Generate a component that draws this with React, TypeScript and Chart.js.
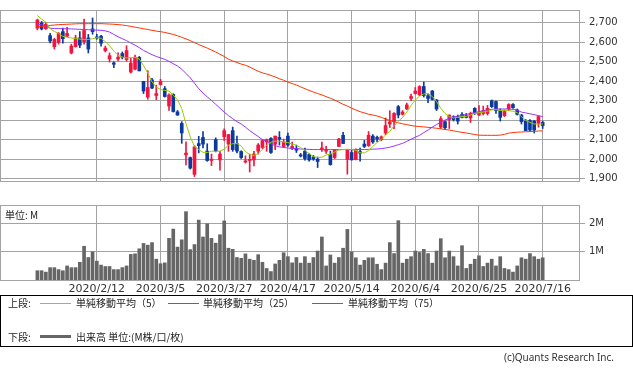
import React, { useEffect, useRef } from 'react';
import { Chart, registerables } from 'chart.js';

Chart.register(...registerables);

// ---------- data ----------
const tickIndex = [14, 29, 44, 59, 74, 89, 104, 119];
const tickLabels = ['2020/2/12', '2020/3/5', '2020/3/27', '2020/4/17', '2020/5/14', '2020/6/4', '2020/6/25', '2020/7/16'];
const priceTicks = [1900, 2000, 2100, 2200, 2300, 2400, 2500, 2600, 2700];
const volumeTicks = [1, 2];
const volumeUnitLabel = '単位: M';

const opens = [
  2672, 2699, 2669, 2634, 2577, 2599, 2654, 2631, 2545, 2577,
  2622, 2603, 2622, 2668, 2626, 2631, 2557, 2514, 2494, 2514,
  2542, 2511, 2447, 2462, 2522, 2399, 2319, 2407, 2327, 2383,
  2362, 2273, 2332, 2243, 2184, 2023, 2009, 1923, 2081, 2112,
  2042, 1994, 2101, 1997, 2116, 2078, 2147, 2081, 2040, 1986,
  1994, 1997, 2042, 2061, 2089, 2107, 2078, 2112, 2066, 2119,
  2055, 2054, 2023, 2042, 2024, 2012, 2001, 2050, 2042, 2024,
  2009, 2066, 2123, 1999, 2035, 1999, 2040, 2078, 2070, 2119,
  2112, 2101, 2135, 2181, 2193, 2270, 2231, 2258, 2312, 2337,
  2330, 2373, 2326, 2350, 2304, 2165, 2193, 2204, 2219, 2219,
  2230, 2224, 2212, 2261, 2227, 2235, 2235, 2300, 2296, 2250,
  2224, 2258, 2281, 2253, 2227, 2196, 2199, 2196, 2184, 2189,
];
const highs = [
  2718, 2706, 2700, 2646, 2620, 2650, 2672, 2676, 2590, 2636,
  2654, 2719, 2640, 2724, 2641, 2635, 2580, 2545, 2500, 2545,
  2550, 2582, 2517, 2534, 2527, 2400, 2454, 2415, 2380, 2410,
  2373, 2336, 2336, 2250, 2193, 2090, 2012, 2070, 2118, 2142,
  2080, 2027, 2110, 2041, 2156, 2127, 2165, 2119, 2044, 2018,
  2027, 2041, 2081, 2101, 2104, 2112, 2119, 2142, 2104, 2135,
  2088, 2073, 2030, 2058, 2030, 2020, 2012, 2088, 2066, 2042,
  2050, 2108, 2138, 2050, 2046, 2054, 2058, 2097, 2142, 2127,
  2119, 2120, 2212, 2249, 2240, 2276, 2250, 2288, 2334, 2368,
  2377, 2396, 2334, 2353, 2307, 2219, 2196, 2227, 2223, 2227,
  2239, 2235, 2242, 2265, 2276, 2273, 2276, 2304, 2299, 2258,
  2253, 2285, 2285, 2258, 2230, 2204, 2204, 2199, 2223, 2196,
];
const lows = [
  2663, 2663, 2665, 2596, 2565, 2590, 2595, 2628, 2540, 2575,
  2572, 2590, 2545, 2641, 2615, 2580, 2550, 2498, 2470, 2505,
  2514, 2503, 2442, 2458, 2453, 2337, 2308, 2362, 2306, 2380,
  2319, 2250, 2242, 2225, 2082, 1972, 1950, 1912, 2033, 2058,
  1990, 1968, 2038, 1944, 2096, 2041, 2041, 2033, 2004, 1981,
  1935, 1966, 2027, 2055, 2041, 2030, 2050, 2073, 2060, 2066,
  2050, 2035, 2012, 1996, 1990, 1995, 1958, 2040, 2030, 1970,
  2004, 2066, 2081, 1924, 1997, 1997, 1990, 2060, 2066, 2081,
  2090, 2095, 2127, 2163, 2157, 2212, 2227, 2255, 2300, 2334,
  2326, 2319, 2290, 2304, 2250, 2158, 2152, 2158, 2196, 2181,
  2212, 2212, 2189, 2230, 2224, 2227, 2227, 2265, 2235, 2196,
  2219, 2250, 2261, 2227, 2181, 2147, 2142, 2135, 2165, 2158,
];
const closes = [
  2714, 2668, 2692, 2606, 2614, 2645, 2618, 2645, 2580, 2622,
  2585, 2660, 2565, 2654, 2622, 2595, 2570, 2531, 2487, 2523,
  2523, 2557, 2493, 2523, 2453, 2350, 2368, 2365, 2337, 2400,
  2322, 2330, 2245, 2227, 2135, 2032, 1955, 2063, 2070, 2078,
  1994, 2001, 2042, 2027, 2147, 2127, 2050, 2042, 2009, 1992,
  2000, 2027, 2073, 2096, 2101, 2035, 2119, 2104, 2089, 2073,
  2066, 2047, 2017, 2004, 1997, 2001, 1989, 2058, 2050, 1973,
  2046, 2104, 2081, 2046, 1997, 2046, 2031, 2066, 2123, 2089,
  2104, 2115, 2173, 2192, 2235, 2227, 2242, 2279, 2322, 2350,
  2373, 2327, 2312, 2307, 2258, 2208, 2162, 2227, 2204, 2196,
  2215, 2215, 2235, 2235, 2242, 2250, 2261, 2270, 2250, 2215,
  2245, 2281, 2265, 2230, 2193, 2147, 2150, 2150, 2219, 2173,
];
const ma5 = [
  2737, 2718, 2703, 2669, 2655, 2645, 2630, 2625, 2622, 2618,
  2616, 2614, 2614, 2618, 2623, 2620, 2602, 2582, 2555, 2533,
  2524, 2519, 2522, 2522, 2514, 2480, 2442, 2397, 2370, 2358,
  2353, 2350, 2328, 2305, 2260, 2183, 2115, 2066, 2050, 2036,
  2035, 2042, 2041, 2042, 2052, 2072, 2080, 2081, 2068, 2040,
  2025, 2020, 2030, 2050, 2073, 2088, 2093, 2092, 2089, 2086,
  2078, 2072, 2060, 2046, 2030, 2014, 2009, 2011, 2022, 2027,
  2037, 2048, 2050, 2052, 2050, 2046, 2034, 2033, 2045, 2066,
  2086, 2102, 2125, 2143, 2172, 2195, 2214, 2242, 2276, 2304,
  2324, 2335, 2337, 2322, 2296, 2261, 2235, 2219, 2212, 2215,
  2219, 2220, 2227, 2235, 2239, 2242, 2247, 2253, 2255, 2250,
  2250, 2249, 2247, 2239, 2219, 2199, 2189, 2181, 2181, 2181,
];
const ma25 = [
  2690, 2689, 2684, 2672, 2670, 2670, 2669, 2669, 2668, 2667,
  2666, 2665, 2664, 2663, 2662, 2661, 2658, 2652, 2640, 2628,
  2618, 2608, 2596, 2585, 2572, 2558, 2547, 2536, 2527, 2520,
  2512, 2502, 2490, 2478, 2462, 2440, 2418, 2390, 2362, 2340,
  2320, 2302, 2282, 2262, 2242, 2224, 2208, 2193, 2181, 2165,
  2147, 2132, 2117, 2101, 2092, 2080, 2070, 2064, 2061, 2058,
  2056, 2055, 2053, 2052, 2051, 2050, 2050, 2050, 2050, 2050,
  2050, 2050, 2050, 2050, 2050, 2050, 2050, 2050, 2051, 2052,
  2053, 2055, 2058, 2062, 2068, 2075, 2082, 2092, 2103, 2113,
  2123, 2137, 2150, 2165, 2178, 2190, 2201, 2210, 2217, 2221,
  2226, 2230, 2235, 2239, 2244, 2249, 2253, 2256, 2258, 2258,
  2258, 2258, 2256, 2252, 2242, 2238, 2233, 2229, 2224, 2219,
];
const ma75 = [
  2678, 2680, 2683, 2686, 2688, 2690, 2691, 2692, 2693, 2694,
  2695, 2695, 2695, 2695, 2695, 2695, 2694, 2693, 2692, 2690,
  2688, 2685, 2681, 2677, 2673, 2669, 2665, 2661, 2657, 2654,
  2650, 2645, 2640, 2633, 2625, 2617, 2608, 2598, 2588, 2579,
  2570, 2560, 2550, 2538, 2527, 2513, 2504, 2496, 2488, 2482,
  2473, 2462, 2451, 2443, 2437, 2430, 2422, 2413, 2405, 2396,
  2388, 2381, 2371, 2362, 2353, 2345, 2337, 2330, 2321, 2313,
  2304, 2293, 2282, 2273, 2262, 2253, 2244, 2238, 2231, 2227,
  2222, 2215, 2207, 2199, 2193, 2187, 2182, 2178, 2173, 2170,
  2168, 2166, 2164, 2162, 2159, 2156, 2153, 2150, 2146, 2142,
  2138, 2135, 2131, 2127, 2124, 2123, 2123, 2123, 2123, 2124,
  2128, 2134, 2137, 2139, 2140, 2141, 2142, 2143, 2145, 2146,
];
const volumes = [
  0.33, 0.33, 0.28, 0.44, 0.44, 0.37, 0.33, 0.5, 0.44, 0.44,
  0.63, 1.2, 0.8, 1.0, 0.67, 0.53, 0.48, 0.48, 0.37, 0.37,
  0.44, 0.5, 0.91, 0.93, 1.11, 1.3, 1.24, 1.33, 0.74, 0.58,
  0.61, 1.48, 1.81, 1.17, 1.43, 2.43, 1.08, 1.26, 2.13, 1.53,
  2.0, 1.48, 1.31, 1.61, 2.1, 1.13, 1.09, 0.8, 0.77, 0.93,
  0.74, 0.7, 0.9, 0.63, 0.41, 0.3, 0.57, 0.7, 0.97, 0.83,
  0.61, 0.8, 0.6, 0.83, 0.6, 0.8, 1.03, 1.53, 0.5, 0.89,
  0.6, 0.8, 1.13, 1.8, 1.0, 0.79, 0.53, 0.7, 0.79, 0.79,
  0.56, 0.37, 0.6, 1.33, 0.94, 2.11, 0.6, 0.74, 0.83, 1.03,
  0.98, 1.09, 0.94, 0.6, 1.03, 1.47, 0.79, 1.03, 0.83, 0.5,
  1.22, 0.41, 0.56, 0.74, 0.86, 0.48, 0.6, 0.74, 0.5, 0.83,
  0.41, 0.37, 0.28, 0.5, 0.79, 0.74, 0.94, 0.83, 0.74, 0.79,
];

// ---------- styles ----------
const GRID = '#a3a3a3';
const UP = '#f2163f';
const DOWN = '#0b3a9e';
const C_MA5 = '#99cc00';
const C_MA25 = '#9933ff';
const C_MA75 = '#ff3300';
const C_VOL = '#666666';
const TEXT = '#333333';
const X_MIN = -8.8;
const X_MAX = 127.55;
const AXIS_W = 54;

const framePlugin = {
  id: 'frame',
  afterDraw(chart: any) {
    const { ctx, chartArea: a } = chart;
    ctx.save();
    ctx.strokeStyle = GRID;
    ctx.lineWidth = 1;
    ctx.strokeRect(Math.round(a.left) + 0.5, Math.round(a.top) + 0.5, Math.round(a.right - a.left), Math.round(a.bottom - a.top));
    ctx.restore();
  },
};

const unitPlugin = {
  id: 'unitLabel',
  afterDraw(chart: any) {
    const { ctx, chartArea: a } = chart;
    ctx.save();
    ctx.fillStyle = '#222';
    ctx.font = '10px "Noto Sans CJK JP"';
    ctx.textBaseline = 'middle';
    ctx.fillText(volumeUnitLabel, a.left + 5, a.top + 10.5);
    ctx.restore();
  },
};

const xScale = (showLabels: boolean) => ({
  type: 'linear',
  min: X_MIN,
  max: X_MAX,
  offset: false,
  afterBuildTicks: (s: any) => {
    s.ticks = tickIndex.map((v) => ({ value: v }));
  },
  afterFit: (s: any) => {
    s.height = showLabels ? 20 : 0;
  },
  ticks: {
    display: showLabels,
    autoSkip: false,
    maxRotation: 0,
    padding: 3,
    color: TEXT,
    font: { family: 'DejaVu Sans', size: 11 },
    callback: (_v: any, i: number) => tickLabels[i],
  },
  grid: { color: GRID, drawTicks: false, offset: false },
  border: { display: false },
});

export default function App() {
  const topRef = useRef<HTMLCanvasElement>(null);
  const volRef = useRef<HTMLCanvasElement>(null);

  useEffect(() => {
    const colors = closes.map((c, i) => (c >= opens[i] ? UP : DOWN));
    const line = (label: string, values: number[], color: string) => ({
      type: 'line',
      label,
      data: values.map((v, i) => ({ x: i, y: v })),
      borderColor: color,
      borderWidth: 1,
      pointRadius: 0,
      tension: 0,
      order: 0,
    });
    const top = new Chart(topRef.current!, {
      type: 'bar',
      data: {
        datasets: [
          line('単純移動平均(5)', ma5, C_MA5),
          line('単純移動平均(25)', ma25, C_MA25),
          line('単純移動平均(75)', ma75, C_MA75),
          {
            type: 'bar',
            label: 'body',
            data: opens.map((o, i) => ({ x: i, y: [o, closes[i]] })),
            backgroundColor: colors,
            barThickness: 3,
            minBarLength: 1,
            grouped: false,
            order: 1,
          },
          {
            type: 'bar',
            label: 'wick',
            data: lows.map((l, i) => ({ x: i, y: [l, highs[i]] })),
            backgroundColor: colors,
            barThickness: 1,
            grouped: false,
            order: 2,
          },
        ] as any,
      },
      options: {
        animation: false,
        responsive: false,
        maintainAspectRatio: false,
        devicePixelRatio: 1,
        layout: { padding: { top: 0, bottom: 1, left: 0, right: 0 } },
        plugins: { legend: { display: false }, tooltip: { enabled: false } },
        scales: {
          x: xScale(false) as any,
          y: {
            position: 'right',
            min: 1889,
            max: 2765,
            afterBuildTicks: (s: any) => {
              s.ticks = priceTicks.map((v) => ({ value: v }));
            },
            afterFit: (s: any) => {
              s.width = AXIS_W;
            },
            ticks: {
              padding: 4,
              color: TEXT,
              font: { family: 'DejaVu Sans', size: 10 },
              callback: (v: any) => Number(v).toLocaleString('en-US'),
            },
            grid: { color: GRID, tickLength: 6 },
            border: { display: false },
          },
        },
      },
      plugins: [framePlugin],
    });

    const vol = new Chart(volRef.current!, {
      type: 'bar',
      data: {
        datasets: [
          {
            label: '出来高',
            data: volumes.map((v, i) => ({ x: i, y: v })),
            backgroundColor: C_VOL,
            barThickness: 3,
            grouped: false,
          },
        ] as any,
      },
      options: {
        animation: false,
        responsive: false,
        maintainAspectRatio: false,
        devicePixelRatio: 1,
        layout: { padding: { top: 5, bottom: 0, left: 0, right: 0 } },
        plugins: { legend: { display: false }, tooltip: { enabled: false } },
        scales: {
          x: xScale(true) as any,
          y: {
            position: 'right',
            min: 0,
            max: 2.667,
            afterBuildTicks: (s: any) => {
              s.ticks = volumeTicks.map((v) => ({ value: v }));
            },
            afterFit: (s: any) => {
              s.width = AXIS_W;
            },
            ticks: {
              padding: 4,
              color: TEXT,
              font: { family: 'DejaVu Sans', size: 10 },
              callback: (v: any) => `${v}M`,
            },
            grid: { color: GRID, tickLength: 6 },
            border: { display: false },
          },
        },
      },
      plugins: [framePlugin, unitPlugin],
    });

    return () => {
      top.destroy();
      vol.destroy();
    };
  }, []);

  const legendText: React.CSSProperties = {
    position: 'absolute',
    fontFamily: '"Noto Sans CJK JP", sans-serif',
    fontSize: 10,
    lineHeight: '14px',
    color: '#222',
    whiteSpace: 'nowrap',
  };
  const swatch = (left: number, top: number, color: string, h: number): React.CSSProperties => ({
    position: 'absolute',
    left,
    top,
    width: 31,
    height: h,
    background: color,
  });

  return (
    <div style={{ position: 'absolute', left: 0, top: 0, width: 633, height: 375, background: '#fff', overflow: 'hidden' }}>
      <canvas ref={topRef} width={633} height={191} style={{ position: 'absolute', left: 0, top: 0, width: 633, height: 191 }} />
      <canvas ref={volRef} width={633} height={105} style={{ position: 'absolute', left: 0, top: 195, width: 633, height: 105 }} />
      <div
        style={{
          position: 'absolute',
          left: 0,
          top: 295,
          width: 633,
          height: 52,
          border: '1px solid #000',
          boxSizing: 'border-box',
        }}
      >
        <span style={{ ...legendText, left: 7, top: 0 }}>上段:</span>
        <div style={swatch(39, 7, C_MA5, 1)} />
        <span style={{ ...legendText, left: 75, top: 0 }}>単純移動平均（5）</span>
        <div style={swatch(167, 7, C_MA25, 1)} />
        <span style={{ ...legendText, left: 202, top: 0 }}>単純移動平均（25）</span>
        <div style={swatch(311, 7, C_MA75, 1)} />
        <span style={{ ...legendText, left: 347, top: 0 }}>単純移動平均（75）</span>
        <span style={{ ...legendText, left: 7, top: 34 }}>下段:</span>
        <div style={swatch(39, 39, C_VOL, 3)} />
        <span style={{ ...legendText, left: 75, top: 34 }}>出来高 単位:(M株/口/枚)</span>
      </div>
      <span
        style={{
          position: 'absolute',
          right: 19,
          top: 350,
          fontFamily: '"Noto Sans", sans-serif',
          fontSize: 10,
          lineHeight: '14px',
          color: '#333',
        }}
      >
        (c)Quants Research Inc.
      </span>
    </div>
  );
}
